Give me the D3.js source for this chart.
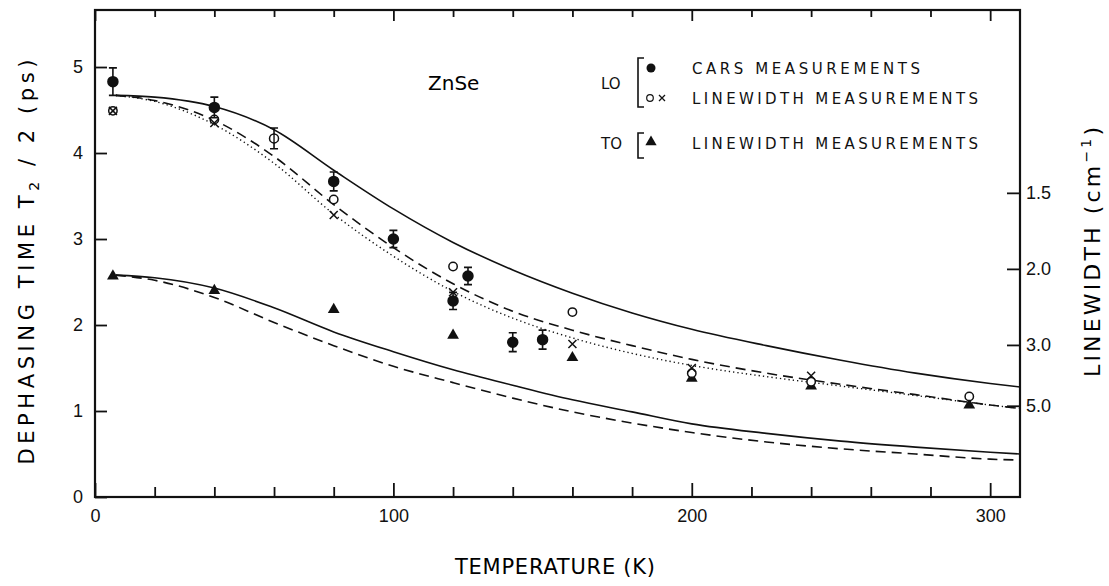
<!DOCTYPE html>
<html>
<head>
<meta charset="utf-8">
<script src="https://cdn.jsdelivr.net/npm/d3@7"></script>
<style>
  body { margin: 0; background: #fff; }
  svg { font-family: "DejaVu Sans", sans-serif; }
</style>
</head>
<body>
<div class="canvas"></div>
<script>
// ---- data ----
// CARS measurements (LO), T in K, T2/2 in ps, half error bar
const carsT   = [6, 40, 60, 80, 100, 120, 125, 140, 150];
const carsV   = [4.83, 4.53, 4.17, 3.67, 3.0, 2.28, 2.57, 1.80, 1.83];
const carsErr = [0.16, 0.12, 0.12, 0.11, 0.10, 0.10, 0.10, 0.11, 0.11];
const carsOpen = [60]; // drawn hollow in the figure

// LO linewidth measurements
const loCircT = [6, 40, 80, 120, 160, 200, 240, 293];
const loCircV = [4.49, 4.39, 3.46, 2.68, 2.15, 1.44, 1.34, 1.17];
const loCrossT = [6, 40, 80, 120, 160, 200, 240];
const loCrossV = [4.49, 4.35, 3.28, 2.38, 1.78, 1.50, 1.41];

// TO linewidth measurements
const toT = [6, 40, 80, 120, 160, 200, 240, 293];
const toV = [2.57, 2.40, 2.18, 1.88, 1.62, 1.38, 1.29, 1.07];

// theory curves
const curveT = [7, 20, 40, 60, 80, 100, 120, 140, 160, 180, 200, 225, 250, 275, 300, 310];
const loSolid  = [4.67, 4.65, 4.54, 4.27, 3.80, 3.35, 2.96, 2.64, 2.37, 2.14, 1.95, 1.76, 1.59, 1.44, 1.32, 1.28];
const loDashed = [4.67, 4.61, 4.38, 3.96, 3.40, 2.90, 2.48, 2.16, 1.94, 1.76, 1.60, 1.44, 1.31, 1.19, 1.07, 1.03];
const loDotted = [4.67, 4.60, 4.33, 3.88, 3.29, 2.80, 2.39, 2.08, 1.85, 1.67, 1.53, 1.40, 1.29, 1.18, 1.07, 1.03];
const toSolid  = [2.58, 2.55, 2.43, 2.20, 1.92, 1.69, 1.48, 1.30, 1.13, 0.99, 0.85, 0.74, 0.65, 0.58, 0.52, 0.50];
const toDashed = [2.58, 2.52, 2.32, 2.03, 1.76, 1.52, 1.33, 1.15, 0.99, 0.86, 0.75, 0.64, 0.56, 0.50, 0.44, 0.43];

// axis ticks
const xMajor = [0, 100, 200, 300];
const xMinor = [20, 40, 60, 80, 120, 140, 160, 180, 220, 240, 260, 280];
const yTicks = [0, 1, 2, 3, 4, 5];
const lwTicks = [1.5, 2.0, 3.0, 5.0];

// ---- layout ----
const W = 1109, H = 586;
const box = { left: 95, right: 1020, top: 10, bottom: 497 };

const svg = d3.select('.canvas').append('svg')
  .attr('width', W).attr('height', H);

const x = d3.scaleLinear().domain([0, 310]).range([box.left, box.right]);
const y = d3.scaleLinear().domain([0, 5.663]).range([box.bottom, box.top]);
// linewidth (cm^-1) -> T2/2 = 5.305 / linewidth ps, so pixel is linear in 1/linewidth
const yLw = d3.scalePow().exponent(-1).domain([1, 5]).range([y(5.305), y(5.305 / 5)]);

// frame
svg.append('rect')
  .attr('x', box.left).attr('y', box.top)
  .attr('width', box.right - box.left).attr('height', box.bottom - box.top)
  .attr('fill', 'none').attr('stroke', '#111').attr('stroke-width', 2.2);

// axes (ticks point inward)
const styleAxis = g => {
  g.select('.domain').remove();
  g.selectAll('line').attr('stroke', '#111').attr('stroke-width', 1.8);
  g.selectAll('text').attr('fill', '#111').attr('font-size', 18);
};

svg.append('g').attr('transform', `translate(0,${box.bottom})`)
  .call(d3.axisBottom(x).tickValues(xMajor).tickSize(-14).tickPadding(12).tickFormat(d3.format('d')))
  .call(styleAxis);
svg.append('g').attr('transform', `translate(0,${box.bottom})`)
  .call(d3.axisBottom(x).tickValues(xMinor).tickSize(-10).tickFormat(''))
  .call(styleAxis);
svg.append('g').attr('transform', `translate(0,${box.top})`)
  .call(d3.axisTop(x).tickValues(xMajor).tickSize(-11).tickFormat(''))
  .call(styleAxis);
svg.append('g').attr('transform', `translate(0,${box.top})`)
  .call(d3.axisTop(x).tickValues(xMinor).tickSize(-7).tickFormat(''))
  .call(styleAxis);
svg.append('g').attr('transform', `translate(${box.left},0)`)
  .call(d3.axisLeft(y).tickValues(yTicks).tickSize(-12).tickPadding(12).tickFormat(d3.format('d')))
  .call(styleAxis);
svg.append('g').attr('transform', `translate(${box.right},0)`)
  .call(d3.axisRight(yLw).tickValues(lwTicks).tickSize(-13).tickPadding(6).tickFormat(d3.format('.1f')))
  .call(styleAxis);

// axis titles
svg.append('text')
  .attr('x', 555).attr('y', 574)
  .attr('text-anchor', 'middle')
  .attr('font-size', 21).attr('textLength', 200).attr('lengthAdjust', 'spacing')
  .text('TEMPERATURE (K)');

const yTitle = svg.append('text')
  .attr('transform', 'translate(34,262) rotate(-90)')
  .attr('text-anchor', 'middle').attr('font-size', 21);
yTitle.append('tspan').text('DEPHASING TIME T');
yTitle.append('tspan').attr('font-size', 14).attr('dy', 5).text('2');
yTitle.append('tspan').attr('dy', -5).text(' / 2 (ps)');
yTitle.attr('textLength', 405).attr('lengthAdjust', 'spacing');

const rTitle = svg.append('text')
  .attr('transform', 'translate(1100,252) rotate(-90)')
  .attr('text-anchor', 'middle').attr('font-size', 22);
rTitle.append('tspan').text('LINEWIDTH  (cm');
rTitle.append('tspan').attr('font-size', 14).attr('dy', -9).text('−1');
rTitle.append('tspan').attr('dy', 9).text(')');
rTitle.attr('textLength', 250).attr('lengthAdjust', 'spacing');

svg.append('text')
  .attr('x', 428).attr('y', 90)
  .attr('font-size', 20)
  .text('ZnSe');

// ---- curves ----
const lineOf = vals => d3.line()
  .x((d, i) => x(curveT[i]))
  .y(d => y(d))
  .curve(d3.curveMonotoneX)(vals);

const curves = [
  { v: loSolid, dash: null },
  { v: loDashed, dash: '10,6' },
  { v: loDotted, dash: '1.3,3' },
  { v: toSolid, dash: null },
  { v: toDashed, dash: '10,6' }
];
svg.append('g').selectAll('path')
  .data(curves).join('path')
  .attr('d', d => lineOf(d.v))
  .attr('fill', 'none').attr('stroke', '#111')
  .attr('stroke-width', d => d.dash === '1.3,3' ? 1.4 : 1.6)
  .attr('stroke-dasharray', d => d.dash);

// ---- markers ----
const marks = svg.append('g');

// TO triangles
const tri = d3.symbol().type(d3.symbolTriangle).size(60);
marks.selectAll('.tri')
  .data(toT).join('path').attr('class', 'tri')
  .attr('transform', (d, i) => `translate(${x(d)},${y(toV[i])})`)
  .attr('d', tri).attr('fill', '#111');

// LO linewidth open circles
marks.selectAll('.ocirc')
  .data(loCircT).join('circle').attr('class', 'ocirc')
  .attr('cx', d => x(d)).attr('cy', (d, i) => y(loCircV[i]))
  .attr('r', 4.2).attr('fill', 'white').attr('stroke', '#111').attr('stroke-width', 1.5);

// LO linewidth crosses
marks.selectAll('.xmark')
  .data(loCrossT).join('path').attr('class', 'xmark')
  .attr('transform', (d, i) => `translate(${x(d)},${y(loCrossV[i])})`)
  .attr('d', 'M-4,-4L4,4M-4,4L4,-4')
  .attr('stroke', '#111').attr('stroke-width', 1.5);

// CARS with error bars
const cars = carsT.map((t, i) => ({ t, v: carsV[i], e: carsErr[i], open: carsOpen.includes(t) }));
const bars = marks.selectAll('.bar').data(cars).join('g').attr('class', 'bar');
bars.append('path')
  .attr('d', d => {
    const cx = x(d.t), y1 = y(d.v + d.e), y2 = y(d.v - d.e);
    return `M${cx},${y1}V${y2}M${cx - 4},${y1}H${cx + 4}M${cx - 4},${y2}H${cx + 4}`;
  })
  .attr('stroke', '#111').attr('stroke-width', 1.6).attr('fill', 'none');
bars.append('circle')
  .attr('cx', d => x(d.t)).attr('cy', d => y(d.v))
  .attr('r', d => d.open ? 4.5 : 5)
  .attr('fill', d => d.open ? 'white' : '#111')
  .attr('stroke', '#111').attr('stroke-width', 1.5);
bars.filter(d => d.open).append('path')
  .attr('d', d => `M${x(d.t)},${y(d.v) - 5}V${y(d.v) + 5}`)
  .attr('stroke', '#111').attr('stroke-width', 1.4);

// ---- legend ----
const leg = svg.append('g').attr('fill', '#111');
leg.append('path')
  .attr('d', 'M644,58H638V107H644M644,133H638V158H644')
  .attr('fill', 'none').attr('stroke', '#111').attr('stroke-width', 1.6);
leg.append('text').attr('x', 601).attr('y', 89).attr('font-size', 15).text('LO');
leg.append('text').attr('x', 601).attr('y', 149).attr('font-size', 15).text('TO');
leg.append('circle').attr('cx', 651).attr('cy', 68).attr('r', 4.5);
leg.append('circle').attr('cx', 650).attr('cy', 98).attr('r', 3.3)
  .attr('fill', 'none').attr('stroke', '#111').attr('stroke-width', 1.2);
leg.append('path').attr('d', 'M659,95L665,101M659,101L665,95')
  .attr('stroke', '#111').attr('stroke-width', 1.3);
leg.append('path').attr('transform', 'translate(651,142)')
  .attr('d', d3.symbol().type(d3.symbolTriangle).size(55));

const legText = [
  { y: 74, s: 'CARS MEASUREMENTS', w: 228 },
  { y: 104, s: 'LINEWIDTH MEASUREMENTS', w: 286 },
  { y: 149, s: 'LINEWIDTH MEASUREMENTS', w: 286 }
];
leg.selectAll('.lt').data(legText).join('text').attr('class', 'lt')
  .attr('x', 692).attr('y', d => d.y)
  .attr('font-size', 15)
  .attr('textLength', d => d.w).attr('lengthAdjust', 'spacing')
  .text(d => d.s);
</script>
</body>
</html>
